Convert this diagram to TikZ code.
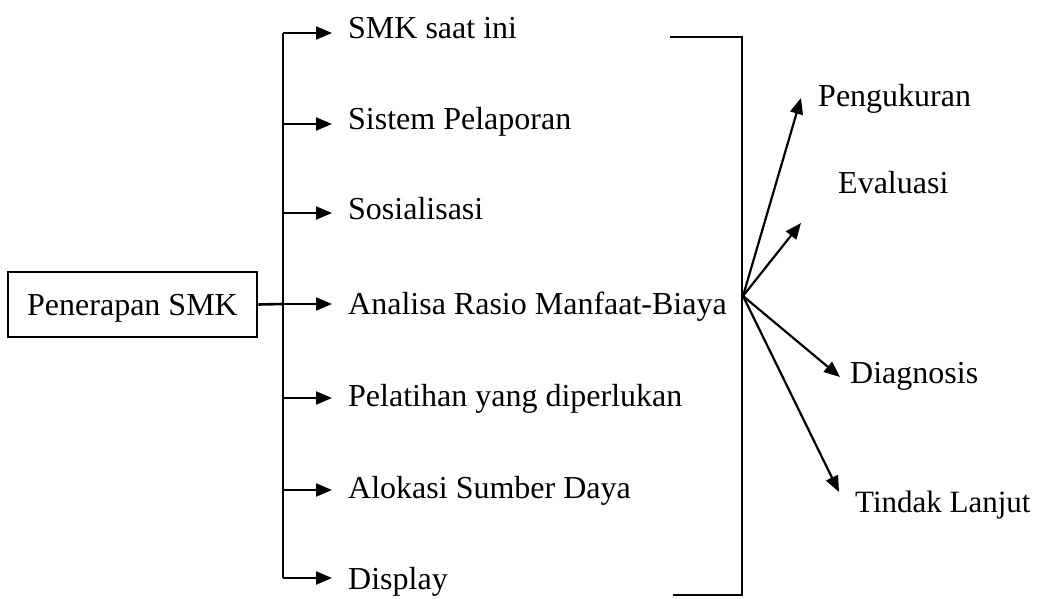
\documentclass[tikz,border=0pt]{standalone}
\usepackage{fontspec}
\setmainfont{Liberation Serif}
\usetikzlibrary{arrows.meta}
\begin{document}
\begin{tikzpicture}[x=1pt,y=-1pt,
  every node/.style={font=\fontsize{32}{38}\selectfont, inner sep=0pt},
  line/.style={line width=2.6pt},
  arr/.style={line width=2.2pt, -{Triangle[length=16pt,width=13pt]}},
  item/.style={anchor=base west},
  box/.style={draw, line width=2.6pt, minimum width=249pt, minimum height=65pt}]
\useasboundingbox (0,0) rectangle (1038,599);
\fill[white] (0,0) rectangle (1038,599);
% left box
\node[box] (src) at (132.5,304.5) {};
\node[anchor=base] (srct) at (132.5,315) {Penerapan SMK};
% bar
\coordinate (bm) at (283,304);
\draw[line] (src.east) -- (bm);
% items
\node[item] (i1) at (348,39) {SMK saat ini};
\node[item] (i2) at (348,130) {Sistem Pelaporan};
\node[item] (i3) at (348,219) {Sosialisasi};
\node[item] (i4) at (348,314) {Analisa Rasio Manfaat-Biaya};
\node[item] (i5) at (348,406) {Pelatihan yang diperlukan};
\node[item] (i6) at (348,498) {Alokasi Sumber Daya};
\node[item] (i7) at (348,589) {Display};
\coordinate (a1) at (283,33);
\coordinate (a2) at (283,124);
\coordinate (a3) at (283,213);
\coordinate (a4) at (283,304);
\coordinate (a5) at (283,398);
\coordinate (a6) at (283,490);
\coordinate (a7) at (283,578);
\draw[line] (a1) -- (a7);
\foreach \k in {1,...,7} {
  \draw[arr] (a\k) -- ++(49,0);
}
% right bracket
\coordinate (rt) at (670,37);
\coordinate (rb) at (673,595);
\coordinate (rc) at (742,37);
\draw[line] (rt) -- (rc) -- (742,595) -- (rb);
% fan
\coordinate (o) at (743,296);
\coordinate (t1) at (801,98);
\coordinate (t2) at (801,223);
\coordinate (t3) at (840,377);
\coordinate (t4) at (839,492);
\draw[arr] (o) -- (t1);
\draw[arr] (o) -- (t2);
\draw[arr] (o) -- (t3);
\draw[arr] (o) -- (t4);
\node[item] (r1) at (818,107) {Pengukuran};
\node[item] (r2) at (838,193) {Evaluasi};
\node[item] (r3) at (850,383) {Diagnosis};
\node[item, font=\fontsize{31}{37}\selectfont] (r4) at (855,512) {Tindak Lanjut};
\end{tikzpicture}
\end{document}
